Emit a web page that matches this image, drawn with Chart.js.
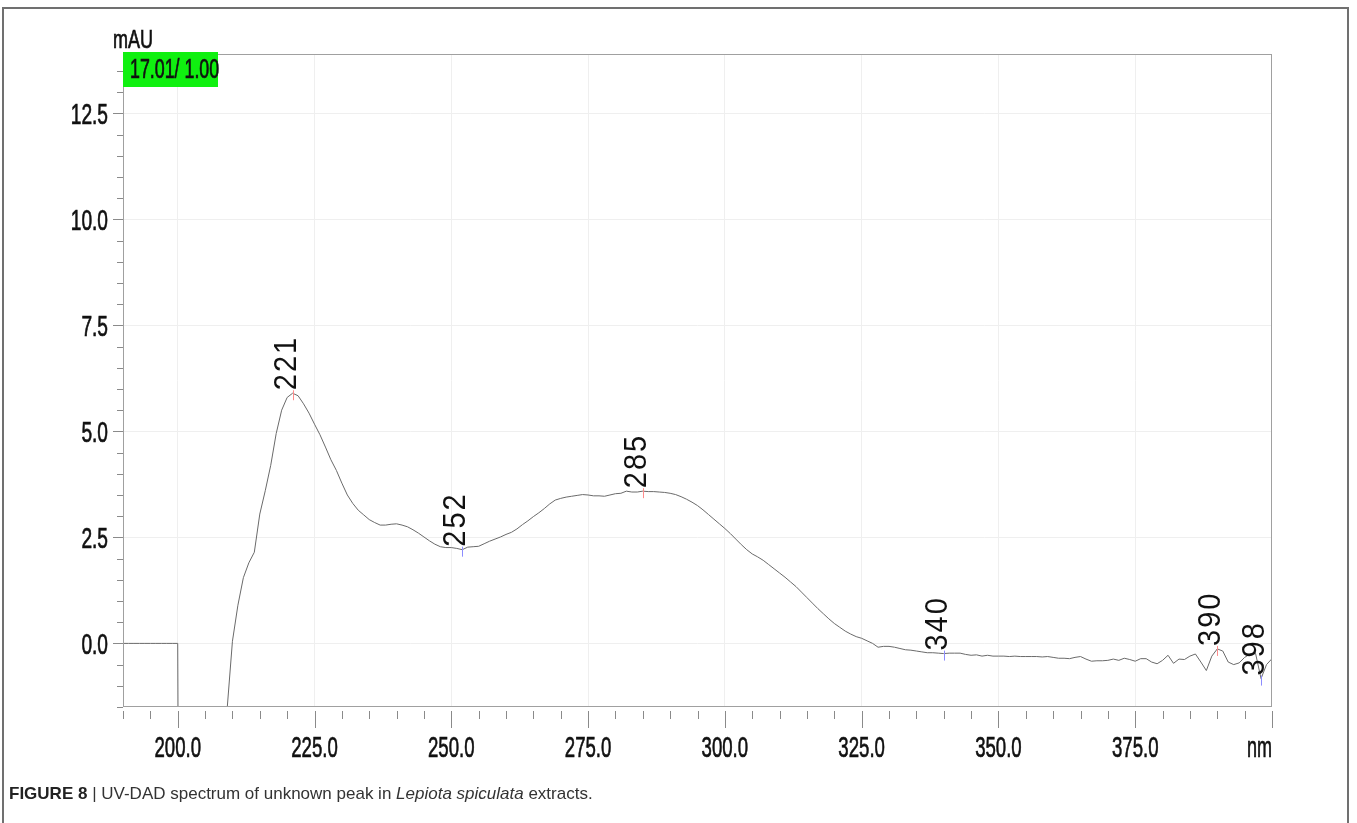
<!DOCTYPE html>
<html>
<head>
<meta charset="utf-8">
<script src="https://cdn.jsdelivr.net/npm/chart.js@4.4.1/dist/chart.umd.min.js"></script>
<style>
  body { margin: 0; background: #fff; }
  #wrap { position: relative; width: 1357px; height: 823px; overflow: hidden; }
  #frame { position: absolute; left: 2px; top: 7px; width: 1347px; height: 830px;
           border: 2px solid #707070; box-sizing: border-box; }
  #chart { position: absolute; left: 0; top: 0; }
  #caption { position: absolute; left: 9px; top: 784px; font: 17px "Liberation Sans", Arial, sans-serif;
             color: #333; white-space: nowrap; }
  #caption b { color: #222; }
</style>
</head>
<body>
<div id="wrap">
  <div id="frame"></div>
  <canvas id="chart" width="1357" height="823"></canvas>
  <div id="caption"><b>FIGURE 8</b> | UV-DAD spectrum of unknown peak in <i>Lepiota spiculata</i> extracts.</div>
</div>
<script>
// wavelength (nm), one reading per nm
const wavelengths = [
  190, 191, 192, 193, 194, 195, 196, 197, 198, 199,
  200, 201, 202, 203, 204, 205, 206, 207, 208, 209,
  210, 211, 212, 213, 214, 215, 216, 217, 218, 219,
  220, 221, 222, 223, 224, 225, 226, 227, 228, 229,
  230, 231, 232, 233, 234, 235, 236, 237, 238, 239,
  240, 241, 242, 243, 244, 245, 246, 247, 248, 249,
  250, 251, 252, 253, 254, 255, 256, 257, 258, 259,
  260, 261, 262, 263, 264, 265, 266, 267, 268, 269,
  270, 271, 272, 273, 274, 275, 276, 277, 278, 279,
  280, 281, 282, 283, 284, 285, 286, 287, 288, 289,
  290, 291, 292, 293, 294, 295, 296, 297, 298, 299,
  300, 301, 302, 303, 304, 305, 306, 307, 308, 309,
  310, 311, 312, 313, 314, 315, 316, 317, 318, 319,
  320, 321, 322, 323, 324, 325, 326, 327, 328, 329,
  330, 331, 332, 333, 334, 335, 336, 337, 338, 339,
  340, 341, 342, 343, 344, 345, 346, 347, 348, 349,
  350, 351, 352, 353, 354, 355, 356, 357, 358, 359,
  360, 361, 362, 363, 364, 365, 366, 367, 368, 369,
  370, 371, 372, 373, 374, 375, 376, 377, 378, 379,
  380, 381, 382, 383, 384, 385, 386, 387, 388, 389,
  390, 391, 392, 393, 394, 395, 396, 397, 398, 399,
  400
];

// absorbance (mAU); 201-208 are off scale, below the axis
const absorbance = [
  0, 0, 0, 0, 0, 0, 0, 0, 0, 0,
  0, -30, -30, -30, -30, -30, -30, -30, -30, -1.6,
  0.05, 0.9, 1.55, 1.9, 2.15, 3.05, 3.6, 4.2, 4.95, 5.5,
  5.8, 5.9, 5.84, 5.65, 5.43, 5.17, 4.92, 4.63, 4.33, 4.08,
  3.78, 3.5, 3.3, 3.14, 3.03, 2.92, 2.85, 2.79, 2.79, 2.81,
  2.82, 2.79, 2.75, 2.68, 2.6, 2.51, 2.42, 2.34, 2.28, 2.26,
  2.26, 2.24, 2.21, 2.27, 2.28, 2.29, 2.35, 2.41, 2.46, 2.51,
  2.57, 2.62, 2.7, 2.8, 2.89, 2.99, 3.08, 3.18, 3.29, 3.38,
  3.42, 3.45, 3.47, 3.49, 3.51, 3.5, 3.48, 3.48, 3.47, 3.5,
  3.53, 3.54, 3.59, 3.57, 3.57, 3.59, 3.58, 3.58, 3.57, 3.56,
  3.54, 3.51, 3.46, 3.4, 3.33, 3.25, 3.15, 3.04, 2.93, 2.82,
  2.71, 2.59, 2.46, 2.33, 2.21, 2.11, 2.04, 1.96, 1.86, 1.76,
  1.66, 1.56, 1.45, 1.34, 1.21, 1.08, 0.95, 0.82, 0.7, 0.58,
  0.47, 0.38, 0.29, 0.22, 0.16, 0.12, 0.06, 0.0, -0.09, -0.07,
  -0.07, -0.09, -0.12, -0.15, -0.16, -0.18, -0.2, -0.22, -0.22, -0.23,
  -0.24, -0.23, -0.23, -0.23, -0.26, -0.28, -0.27, -0.3, -0.28, -0.3,
  -0.3, -0.3, -0.31, -0.3, -0.31, -0.31, -0.31, -0.31, -0.32, -0.31,
  -0.33, -0.35, -0.35, -0.36, -0.33, -0.31, -0.37, -0.42, -0.41, -0.41,
  -0.4, -0.37, -0.4, -0.35, -0.38, -0.42, -0.36, -0.36, -0.44, -0.48,
  -0.4, -0.28, -0.47, -0.37, -0.38, -0.3, -0.25, -0.44, -0.64, -0.3,
  -0.13, -0.18, -0.44, -0.5, -0.46, -0.33, -0.25, -0.24, -0.83, -0.5,
  -0.36
];

const xMajorTicks = [200, 225, 250, 275, 300, 325, 350, 375];
const xTickLabels = ['200.0', '225.0', '250.0', '275.0', '300.0', '325.0', '350.0', '375.0'];
const yMajorTicks = [0, 2.5, 5, 7.5, 10, 12.5];
const yTickLabels = ['0.0', '2.5', '5.0', '7.5', '10.0', '12.5'];

// peak / valley marks picked by the software
const peakWavelengths = [221, 252, 285, 340, 390, 398];
const peakTypes = ['max', 'min', 'max', 'min', 'max', 'min'];

const FONT = '"Liberation Sans", Arial, sans-serif';

// squeezed text, like the narrow font of the instrument printout
function narrowText(ctx, text, x, y, size, squeeze, align) {
    ctx.save();
    ctx.translate(x, y);
    ctx.scale(squeeze, 1);
    ctx.font = size + 'px ' + FONT;
    ctx.textAlign = align;
    ctx.textBaseline = 'alphabetic';
    ctx.lineWidth = 0.7;
    ctx.strokeStyle = ctx.fillStyle;
    ctx.fillText(text, 0, 0);
    ctx.strokeText(text, 0, 0);
    ctx.restore();
}

const spectrumDecor = {
    id: 'spectrumDecor',
    afterDraw(chart) {
        const { ctx, chartArea: a, scales: { x, y } } = chart;
        ctx.save();

        // plot frame
        ctx.strokeStyle = '#a0a0a0';
        ctx.lineWidth = 1;
        ctx.strokeRect(Math.round(a.left) + 0.5, Math.round(a.top) + 0.5,
                       Math.round(a.width) - 1, Math.round(a.height) - 1);

        // x ticks, every 5 nm, a little below the frame
        ctx.strokeStyle = '#8a8a8a';
        ctx.beginPath();
        for (let nm = 190; nm <= 400; nm += 5) {
            const px = Math.round(x.getPixelForValue(nm)) + 0.5;
            const long = (nm % 25 === 0) || nm === 400;
            ctx.moveTo(px, a.bottom + 4);
            ctx.lineTo(px, a.bottom + (long ? 21 : 12));
        }
        // y ticks, every 0.5 mAU
        for (let i = -3; i <= 27; i++) {
            const py = Math.round(y.getPixelForValue(i * 0.5)) + 0.5;
            const long = (i % 5 === 0);
            ctx.moveTo(a.left, py);
            ctx.lineTo(a.left - (long ? 10 : 6), py);
        }
        ctx.stroke();

        // tick labels
        ctx.fillStyle = '#111';
        xMajorTicks.forEach((v, i) => {
            narrowText(ctx, xTickLabels[i], x.getPixelForValue(v), a.bottom + 50, 30, 0.62, 'center');
        });
        yMajorTicks.forEach((v, i) => {
            narrowText(ctx, yTickLabels[i], a.left - 15, y.getPixelForValue(v) + 11, 29, 0.66, 'right');
        });
        narrowText(ctx, 'nm', a.right, a.bottom + 50, 30, 0.6, 'right');
        narrowText(ctx, 'mAU', a.left - 10, a.top - 6, 25, 0.72, 'left');

        // retention time / scale badge
        ctx.fillStyle = '#10f010';
        ctx.fillRect(a.left, a.top - 2, 95, 35);
        ctx.fillStyle = '#111';
        narrowText(ctx, '17.01/ 1.00', a.left + 7, a.top + 24, 27, 0.66, 'left');

        // peak marks and rotated labels
        peakWavelengths.forEach((nm, i) => {
            const idx = wavelengths.indexOf(nm);
            const px = x.getPixelForValue(nm);
            const py = y.getPixelForValue(absorbance[idx]);
            ctx.strokeStyle = peakTypes[i] === 'max' ? '#ff8c8c' : '#8c8cff';
            ctx.lineWidth = 1;
            ctx.beginPath();
            ctx.moveTo(Math.round(px) + 0.5, py - 3);
            ctx.lineTo(Math.round(px) + 0.5, py + 7);
            ctx.stroke();

            ctx.save();
            ctx.translate(px + 3, py - 3);
            ctx.rotate(-Math.PI / 2);
            ctx.scale(1, 1.1);
            ctx.font = '29px ' + FONT;
            ctx.letterSpacing = '2px';
            ctx.fillStyle = '#111';
            ctx.textAlign = 'left';
            ctx.textBaseline = 'alphabetic';
            ctx.fillText(String(nm), 0, 0);
            ctx.restore();
        });

        ctx.restore();
    }
};

document.addEventListener('DOMContentLoaded', () => {
    const points = wavelengths.map((nm, i) => ({ x: nm, y: absorbance[i] }));
    const ctx = document.getElementById('chart').getContext('2d');
    new Chart(ctx, {
        type: 'line',
        data: {
            datasets: [{
                label: 'Spectrum',
                data: points,
                borderColor: '#6a6a6a',
                borderWidth: 1,
                pointRadius: 0,
                fill: false,
                tension: 0
            }]
        },
        options: {
            responsive: false,
            animation: false,
            layout: { padding: { left: 123, top: 54, right: 85, bottom: 116 } },
            plugins: { legend: { display: false }, tooltip: { enabled: false } },
            scales: {
                x: {
                    type: 'linear',
                    min: 190,
                    max: 400,
                    afterBuildTicks: s => { s.ticks = xMajorTicks.map(v => ({ value: v })); },
                    ticks: { display: false },
                    grid: { color: '#efefef', drawTicks: false },
                    border: { display: false }
                },
                y: {
                    type: 'linear',
                    min: -1.5,
                    max: 13.9,
                    afterBuildTicks: s => { s.ticks = yMajorTicks.map(v => ({ value: v })); },
                    ticks: { display: false },
                    grid: { color: '#efefef', drawTicks: false },
                    border: { display: false }
                }
            }
        },
        plugins: [spectrumDecor]
    });
});
</script>
</body>
</html>
